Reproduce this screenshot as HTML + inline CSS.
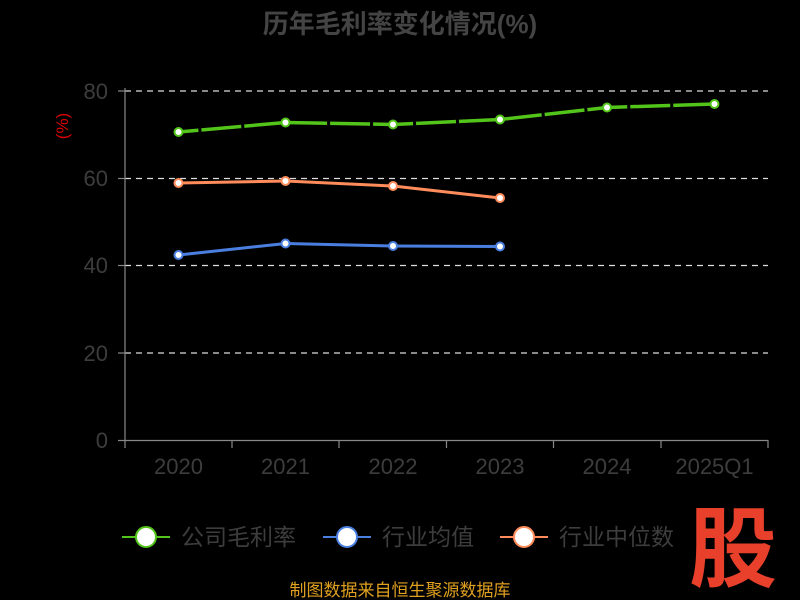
<html><body style="margin:0;background:#000">
<svg width="800" height="600" xmlns="http://www.w3.org/2000/svg" font-family="Liberation Sans, Noto Sans CJK SC, sans-serif">
<rect width="800" height="600" fill="#000"/>
<text x="400" y="33" text-anchor="middle" font-size="26" font-weight="bold" fill="#444" font-family="Liberation Sans, Noto Sans CJK SC, sans-serif">历年毛利率变化情况(%)</text>
<g stroke="#ddd" stroke-dasharray="6,5" stroke-width="1.2">
<line x1="125" x2="768" y1="91" y2="91"/><line x1="125" x2="768" y1="178.5" y2="178.5"/><line x1="125" x2="768" y1="265.5" y2="265.5"/><line x1="125" x2="768" y1="353" y2="353"/>
</g>
<g stroke="#888" stroke-width="1.2">
<line x1="125" x2="125" y1="88" y2="440"/><line x1="118" x2="768" y1="440.5" y2="440.5"/>
<line x1="118" x2="125" y1="91" y2="91"/><line x1="118" x2="125" y1="178.5" y2="178.5"/><line x1="118" x2="125" y1="265.5" y2="265.5"/><line x1="118" x2="125" y1="353" y2="353"/>
<line x1="125" x2="125" y1="440" y2="448"/><line x1="232" x2="232" y1="440" y2="448"/><line x1="339" x2="339" y1="440" y2="448"/><line x1="446.5" x2="446.5" y1="440" y2="448"/><line x1="553.5" x2="553.5" y1="440" y2="448"/><line x1="661" x2="661" y1="440" y2="448"/><line x1="768" x2="768" y1="440" y2="448"/>
</g>
<g fill="#3d3d3d" font-size="22" text-anchor="end">
<text x="108" y="99">80</text><text x="108" y="186">60</text><text x="108" y="273">40</text><text x="108" y="361">20</text><text x="108" y="448">0</text>
</g>
<text transform="translate(68,126) rotate(-90)" fill="#d00" font-size="17" text-anchor="middle">(%)</text>
<g fill="#3d3d3d" font-size="22" text-anchor="middle">
<text x="178.5" y="474">2020</text><text x="285.5" y="474">2021</text><text x="393" y="474">2022</text><text x="500" y="474">2023</text><text x="607" y="474">2024</text><text x="714.5" y="474">2025Q1</text>
</g>
<polyline points="178.5,132 285.5,122.5 393,124.5 500,119.5 607,107.5 714.5,104" fill="none" stroke="#52c41a" stroke-width="3.5"/>
<polyline points="178.5,132 285.5,122.5 393,124.5 500,119.5 607,107.5 714.5,104" fill="none" stroke="#000" stroke-width="4" stroke-dasharray="3,40" stroke-dashoffset="-20"/>
<polyline points="178.5,183 285.5,181 393,186 500,198" fill="none" stroke="#ff8c5a" stroke-width="3"/>
<polyline points="178.5,255 285.5,243.5 393,246 500,246.5" fill="none" stroke="#4a7fe0" stroke-width="3"/>
<g fill="#fff" stroke-width="2">
<g stroke="#52c41a"><circle cx="178.5" cy="132" r="4"/><circle cx="285.5" cy="122.5" r="4"/><circle cx="393" cy="124.5" r="4"/><circle cx="500" cy="119.5" r="4"/><circle cx="607" cy="107.5" r="4"/><circle cx="714.5" cy="104" r="4"/></g>
<g stroke="#ff8c5a"><circle cx="178.5" cy="183" r="4"/><circle cx="285.5" cy="181" r="4"/><circle cx="393" cy="186" r="4"/><circle cx="500" cy="198" r="4"/></g>
<g stroke="#4a7fe0"><circle cx="178.5" cy="255" r="4"/><circle cx="285.5" cy="243.5" r="4"/><circle cx="393" cy="246" r="4"/><circle cx="500" cy="246.5" r="4"/></g>
</g>
<g font-size="23" fill="#3d3d3d">
<line x1="122" x2="170" y1="537" y2="537" stroke="#52c41a" stroke-width="2"/><circle cx="146" cy="537" r="10" fill="#fff" stroke="#52c41a" stroke-width="2"/><text x="181" y="545">公司毛利率</text>
<line x1="323" x2="371" y1="537" y2="537" stroke="#4a7fe0" stroke-width="2"/><circle cx="347" cy="537" r="10" fill="#fff" stroke="#4a7fe0" stroke-width="2"/><text x="382" y="545">行业均值</text>
<line x1="500" x2="548" y1="537" y2="537" stroke="#ff8c5a" stroke-width="2"/><circle cx="524" cy="537" r="10" fill="#fff" stroke="#ff8c5a" stroke-width="2"/><text x="559" y="545">行业中位数</text>
</g>
<text x="733" y="580" text-anchor="middle" font-size="88" font-weight="bold" fill="#e8402a">股</text>
<text x="400" y="596" text-anchor="middle" font-size="17" fill="#e0a020">制图数据来自恒生聚源数据库</text>
</svg>
</body></html>
